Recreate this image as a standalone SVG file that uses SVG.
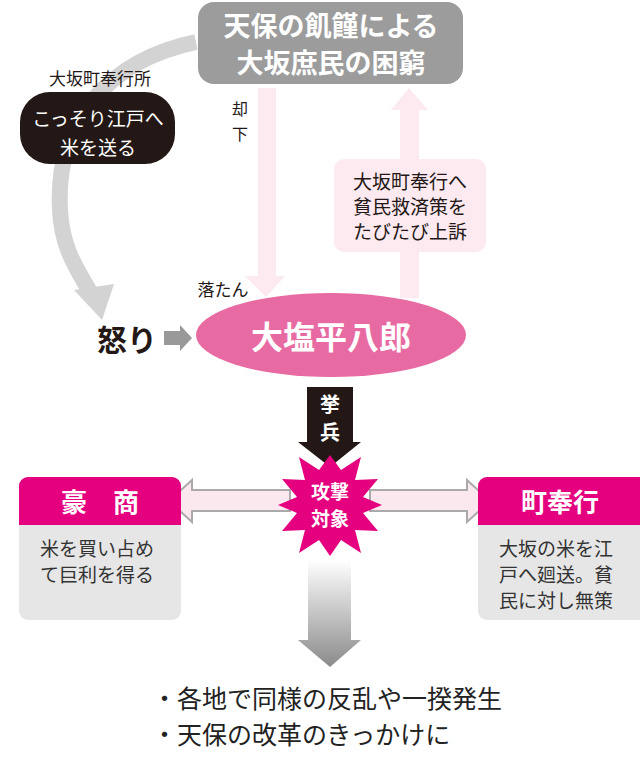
<svg xmlns="http://www.w3.org/2000/svg" width="640" height="758" viewBox="0 0 640 758">
<defs>
<style>
text{font-family:"Noto Sans CJK JP","Noto Sans",sans-serif;text-anchor:middle;dominant-baseline:central}
.b{font-weight:bold}
.w{fill:#fff}
.d{fill:#231815}
.body{fill:#333;font-size:19px;text-anchor:start}
</style>
<linearGradient id="g" x1="0" y1="0" x2="0" y2="1"><stop offset="0" stop-color="#fff"/><stop offset="1" stop-color="#8a8a8a"/></linearGradient>
</defs>
<g id="connectors">
<path d="M196,42 C110,60 55,120 60,210 C62,250 78,270 90,292" fill="none" stroke="#d3d3d3" stroke-width="16"/>
<polygon points="74,290 114,284 102,320" fill="#d3d3d3"/>
<rect x="258" y="88" width="18" height="190" fill="#fdeaf1"/>
<polygon points="245,276 285,276 266,297" fill="#fdeaf1"/>
<rect x="400" y="108" width="19" height="190" fill="#fdeaf1"/>
<polygon points="391,110 428,110 409,88" fill="#fdeaf1"/>
<polygon points="164,331 180,331 180,325 192,338 180,351 180,345 164,345" fill="#999"/>
<polygon points="307,387 353,387 353,442 361,442 330,467 298,442 307,442" fill="#231815"/>
<polygon points="308,560 351,560 351,640 361,640 330,667 298,640 308,640" fill="url(#g)"/>
<polygon points="290,490 192,490 192,480 169,501 192,522 192,511 290,511" fill="#fbe8ef" stroke="#aaa" stroke-width="2"/>
<polygon points="370,490 467,490 467,480 490,501 467,522 467,511 370,511" fill="#fbe8ef" stroke="#aaa" stroke-width="2"/>
</g>
<g id="top"><rect x="198" y="2" width="265" height="82" rx="16" fill="#9c9c9c"/>
<text x="331" y="24" class="b w" font-size="27">天保の飢饉による</text>
<text x="331" y="61" class="b w" font-size="27">大坂庶民の困窮</text></g>
<g id="bugyo"><text x="100" y="77" class="d" font-size="17">大坂町奉行所</text>
<rect x="20" y="92" width="155" height="72" rx="30" fill="#231815"/>
<text x="98" y="117" class="w" font-size="19">こっそり江戸へ</text>
<text x="98" y="146" class="w" font-size="19">米を送る</text></g>
<g id="kyakka"><text x="240" y="108" class="d" font-size="16">却</text><text x="240" y="133" class="d" font-size="16">下</text></g>
<g id="appeal"><rect x="334" y="159" width="152" height="93" rx="10" fill="#fdeaf1"/>
<text x="410" y="180" class="d" font-size="19">大坂町奉行へ</text>
<text x="410" y="205" class="d" font-size="19">貧民救済策を</text>
<text x="410" y="230" class="d" font-size="19">たびたび上訴</text></g>
<g id="rakutan"><text x="223" y="288" class="d" font-size="17">落たん</text></g>
<g id="ikari"><text x="127" y="338" class="b d" font-size="30">怒り</text></g>
<g id="oshio"><ellipse cx="331" cy="335" rx="135" ry="42" fill="#e86aa3"/>
<text x="331" y="335" class="b w" font-size="32">大塩平八郎</text></g>
<g id="kyohei"><text x="330" y="403" class="b w" font-size="20">挙</text><text x="330" y="431" class="b w" font-size="20">兵</text></g>
<g id="target"><polygon fill="#e4007f" points="382,505 363,513 378,531 355,530 361,553 341,540 330,556 319,540 299,553 305,530 282,531 297,513 278,505 297,497 282,479 305,480 299,457 319,470 330,455 341,470 361,457 355,480 378,479 363,497"/>
<text x="330" y="490" class="b w" font-size="19">攻撃</text><text x="330" y="517" class="b w" font-size="19">対象</text></g>
<g id="gosho"><rect x="19" y="477" width="162" height="143" rx="9" fill="#e6e6e6"/>
<path d="M19,525 V486 a9,9 0 0 1 9,-9 H172 a9,9 0 0 1 9,9 V525 Z" fill="#e4007f"/>
<text x="100" y="500" class="b w" font-size="26">豪　商</text>
<text x="40" y="547" class="body">米を買い占め</text>
<text x="40" y="573" class="body">て巨利を得る</text></g>
<g id="machibugyo"><rect x="478" y="477" width="170" height="143" rx="9" fill="#e6e6e6"/>
<path d="M478,525 V486 a9,9 0 0 1 9,-9 H640 V525 Z" fill="#e4007f"/>
<text x="560" y="500" class="b w" font-size="26">町奉行</text>
<text x="499" y="547" class="body">大坂の米を江</text>
<text x="499" y="573" class="body">戸へ廻送。貧</text>
<text x="499" y="599" class="body">民に対し無策</text></g>
<g id="result"><text x="152" y="697" font-size="25" fill="#222" style="text-anchor:start">・各地で同様の反乱や一揆発生</text>
<text x="152" y="733" font-size="25" fill="#222" style="text-anchor:start">・天保の改革のきっかけに</text></g>
</svg>
